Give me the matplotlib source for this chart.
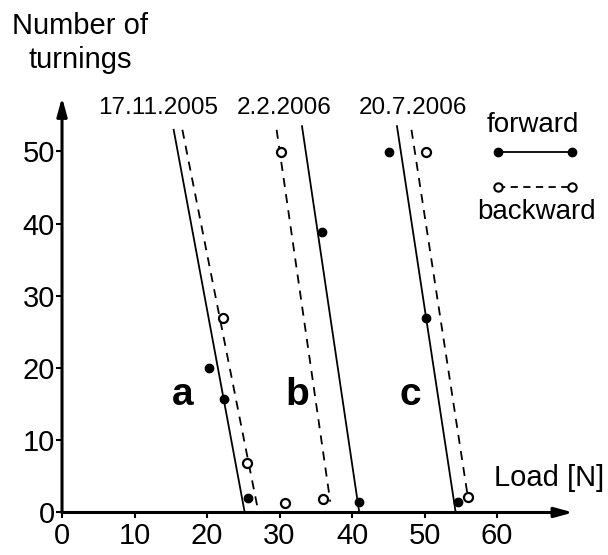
import matplotlib.pyplot as plt

plt.rcParams["font.family"] = ["Liberation Sans", "DejaVu Sans"]

# measured points (load [N], number of turnings)
a_fwd_x = [20.3, 22.3, 25.7]
a_fwd_y = [20.0, 15.7, 2.0]
a_bwd_x = [22.2, 25.5]
a_bwd_y = [26.9, 6.8]

b_fwd_x = [35.8, 41.0]
b_fwd_y = [38.9, 1.4]
b_bwd_x = [30.2, 30.8, 36.0]
b_bwd_y = [49.9, 1.3, 1.8]

c_fwd_x = [45.1, 50.2, 54.6]
c_fwd_y = [49.9, 26.9, 1.5]
c_bwd_x = [50.2, 56.0]
c_bwd_y = [49.9, 2.1]

# fitted lines: (x at top, x at bottom), (y top, y bottom)
a_fwd_line = ([15.4, 25.2], [53.0, 0.0])
a_bwd_line = ([16.6, 26.9], [53.0, 1.0])
b_fwd_line = ([33.1, 41.0], [53.5, 0.0])
b_bwd_line = ([29.6, 37.0], [53.0, 1.5])
c_fwd_line = ([46.2, 54.3], [53.5, 0.0])
c_bwd_line = ([48.2, 56.0], [53.0, 2.0])

dates = ["17.11.2005", "2.2.2006", "20.7.2006"]
date_x = [13.2, 30.6, 48.4]
groups = ["a", "b", "c"]
group_x = [16.7, 32.4, 48.0]

xticks = [0, 10, 20, 30, 40, 50, 60]
yticks = [0, 10, 20, 30, 40, 50]

fig = plt.figure(figsize=(6.08, 5.55), dpi=100)
ax = fig.add_axes([0.102, 0.0766, 0.8347, 0.7546])
ax.set_xlim(0, 70)
ax.set_ylim(0, 58)

solid = dict(color="black", lw=1.3)
dashed = dict(color="black", lw=1.3, linestyle=(0, (5, 4)))
dot = dict(ls="none", marker="o", ms=6, color="black")
ring = dict(ls="none", marker="o", ms=6.5, mfc="white", mec="black", mew=1.6)

for line in [a_fwd_line, b_fwd_line, c_fwd_line]:
    ax.plot(line[0], line[1], **solid)
for line in [a_bwd_line, b_bwd_line, c_bwd_line]:
    ax.plot(line[0], line[1], **dashed)

for xs, ys in [(a_fwd_x, a_fwd_y), (b_fwd_x, b_fwd_y), (c_fwd_x, c_fwd_y)]:
    ax.plot(xs, ys, clip_on=False, zorder=5, **dot)
for xs, ys in [(a_bwd_x, a_bwd_y), (b_bwd_x, b_bwd_y), (c_bwd_x, c_bwd_y)]:
    ax.plot(xs, ys, clip_on=False, zorder=5, **ring)

for d, x in zip(dates, date_x):
    ax.text(x, 56.0, d, ha="center", va="center", fontsize=17.5)
for g, x in zip(groups, group_x):
    ax.text(x, 16.3, g, ha="center", va="center", fontsize=28, fontweight="bold")

# hand-made legend
ax.text(65.0, 53.7, "forward", ha="center", va="center", fontsize=20)
ax.plot([60.1, 70.3], [49.9, 49.9], clip_on=False, marker="o", ms=6, color="black", lw=1.3)
ax.plot([60.1, 70.3], [45.1, 45.1], clip_on=False, marker="o", ms=6, mfc="white",
        mec="black", mew=1.5, color="black", lw=1.3, linestyle=(0, (4, 3)))
ax.text(65.5, 41.6, "backward", ha="center", va="center", fontsize=20)

# axes with arrows
for s in ax.spines.values():
    s.set_visible(False)
arrow = dict(arrowstyle="-|>,head_length=1.1,head_width=0.3", color="black", lw=2.2,
             shrinkA=0, shrinkB=0)
ax.annotate("", xy=(70.5, 0), xytext=(0, 0), arrowprops=arrow, annotation_clip=False)
ax.annotate("", xy=(0, 57.5), xytext=(0, 0), arrowprops=arrow, annotation_clip=False)

ax.set_xticks(xticks)
ax.set_yticks(yticks)
ax.tick_params(axis="x", direction="out", length=4, width=1.5, pad=3, labelsize=21)
ax.tick_params(axis="y", direction="out", length=4, width=1.5, pad=1, labelsize=21)

ax.text(59.6, 4.8, "Load [N]", ha="left", va="center", fontsize=21)
fig.text(80 / 608, 1 - 43 / 555, "Number of\nturnings", ha="center", va="center",
         fontsize=21, linespacing=1.3)

fig.savefig("out.png", dpi=100)
